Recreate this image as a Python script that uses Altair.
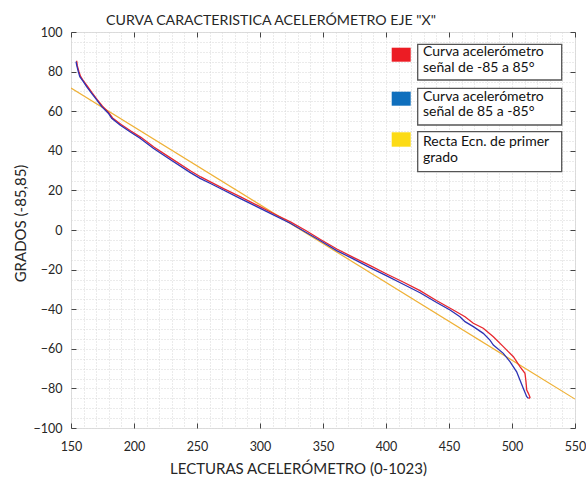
import altair as alt
import pandas as pd

# Accelerometer X-axis readings (0-1023) against angle in degrees
rojo_x = [154.5, 155.0, 156.2, 157.6, 160.2, 163.0, 166.8, 170.8, 175.0, 180.0, 183.0,
          189.5, 197.5, 205.5, 216.0, 228.0, 245.0, 253.0, 261.0, 271.5, 285.0, 298.0,
          311.0, 324.5, 337.0, 348.0, 361.0, 374.0, 387.5, 400.5, 414.0, 427.0, 440.0,
          453.4, 462.7, 469.3, 477.2, 485.2, 493.1, 501.1, 506.3, 510.3, 511.0, 511.7,
          513.0, 514.3, 513.2]
rojo_y = [85.5, 83.0, 80.2, 77.6, 75.0, 72.6, 69.2, 65.8, 62.5, 59.2, 56.6,
          53.4, 50.0, 46.8, 41.8, 36.8, 29.8, 26.8, 24.2, 20.8, 16.6, 12.4,
          8.2, 4.0, -0.5, -4.8, -9.6, -13.8, -18.0, -22.2, -26.4, -30.6, -35.6,
          -40.4, -43.8, -47.1, -49.6, -53.9, -58.9, -64.0, -69.0, -72.4, -76.0, -80.8,
          -82.5, -84.5, -85.2]

azul_x = [154.0, 154.5, 155.8, 157.0, 159.8, 162.4, 166.4, 170.4, 174.4, 179.6, 182.3,
          188.9, 196.8, 204.8, 215.3, 227.2, 244.4, 252.4, 260.3, 270.9, 284.1, 297.4,
          310.6, 324.0, 336.0, 347.6, 360.9, 374.0, 387.3, 400.6, 413.7, 427.0, 440.2,
          450.8, 458.7, 462.7, 469.3, 477.2, 482.5, 485.2, 493.1, 498.4, 503.7, 506.3,
          509.0, 511.7, 513.0]
azul_y = [85.0, 83.3, 80.0, 77.4, 74.9, 72.4, 69.0, 65.7, 62.3, 59.0, 56.4,
          53.0, 49.6, 46.3, 41.3, 36.2, 29.1, 26.1, 23.6, 20.2, 16.0, 11.8,
          7.6, 3.4, -1.0, -5.3, -10.4, -14.6, -19.0, -23.2, -27.4, -31.7, -36.6,
          -40.4, -43.8, -46.3, -48.8, -52.2, -55.6, -58.1, -62.3, -66.5, -71.6, -75.8,
          -80.0, -84.2, -85.0]

# First-degree fit line
recta_x = [150, 550]
recta_y = [71.7, -85.4]

leyenda_textos = [
    ["Curva acelerómetro", "señal de -85 a 85°"],
    ["Curva acelerómetro", "señal de 85 a -85°"],
    ["Recta Ecn. de primer", "grado"],
]
leyenda_colores = ["#ec1c24", "#0f6fbd", "#fcdb16"]

W, H = 504, 396
FONT = "Lato"
TXT = "#262626"

rojo = pd.DataFrame({"x": rojo_x, "y": rojo_y, "i": range(len(rojo_x))})
azul = pd.DataFrame({"x": azul_x, "y": azul_y, "i": range(len(azul_x))})
recta = pd.DataFrame({"x": recta_x, "y": recta_y, "i": range(len(recta_x))})

xs = alt.Scale(domain=[150, 550], nice=False, zero=False)
ys = alt.Scale(domain=[-100, 100], nice=False, zero=False)

x_major = list(range(150, 551, 50))
y_major = list(range(-100, 101, 20))
x_minor = list(range(150, 551, 10))
y_minor = list(range(-100, 101, 5))

grid_style = dict(grid=True, gridColor="#d6d6d6", gridDash=[1, 2], gridWidth=1)

# Labelled axes (bottom / left) that also carry the dotted grid
x_main = alt.Axis(values=x_minor, ticks=False, tickSize=0, domain=False,
                  labelExpr="datum.value % 50 === 0 ? datum.label : ''",
                  labelFlush=False, labelOverlap=False, labelFont=FONT,
                  labelFontSize=12.5, labelColor=TXT, labelBaseline="alphabetic",
                  labelPadding=22, title="LECTURAS ACELERÓMETRO (0-1023)",
                  titleFont=FONT, titleFontSize=15, titleFontWeight="normal",
                  titleColor=TXT, titleX=227, titleY=45, titleBaseline="alphabetic",
                  titleAlign="center", **grid_style)
y_main = alt.Axis(values=y_minor, ticks=False, tickSize=0, domain=False,
                  labelExpr="datum.value % 20 === 0 ? datum.label : ''",
                  labelFlush=False, labelOverlap=False, labelFont=FONT,
                  labelFontSize=12.5, labelColor=TXT, labelPadding=9,
                  title="GRADOS (-85,85)", titleFont=FONT, titleFontSize=15,
                  titleFontWeight="normal", titleColor=TXT, titleX=-51, titleY=191,
                  titleBaseline="middle", titleAlign="center", **grid_style)

tick_style = dict(labels=False, grid=False, domain=False, ticks=True, tickSize=5,
                  tickColor="#444444", tickWidth=1, title=None)

# Inward ticks on all four sides of the box
x_in_bottom = alt.Axis(orient="top", offset=-H, values=x_major, **tick_style)
x_in_top = alt.Axis(orient="bottom", offset=-H, values=x_major, **tick_style)
y_in_left = alt.Axis(orient="right", offset=-W, values=y_major, **tick_style)
y_in_right = alt.Axis(orient="left", offset=-W, values=y_major, **tick_style)

linea_recta = alt.Chart(recta).mark_line(color="#efb136", strokeWidth=1.2, clip=True).encode(
    x=alt.X("x:Q", scale=xs, axis=x_main),
    y=alt.Y("y:Q", scale=ys, axis=y_main),
    order="i:Q",
)
linea_rojo = alt.Chart(rojo).mark_line(color="#e8262d", strokeWidth=1.3, clip=True).encode(
    x=alt.X("x:Q", scale=xs, axis=x_in_bottom),
    y=alt.Y("y:Q", scale=ys, axis=y_in_left),
    order="i:Q",
)
linea_azul = alt.Chart(azul).mark_line(color="#2d32b4", strokeWidth=1.3, clip=True).encode(
    x=alt.X("x:Q", scale=xs, axis=x_in_top),
    y=alt.Y("y:Q", scale=ys, axis=y_in_right),
    order="i:Q",
)

# Hand-built legend: coloured swatch plus boxed two-line label
uno = pd.DataFrame({"k": [0]})
leyenda = []
cajas = [(12.3, 48.0), (56.3, 93.0), (99.7, 139.7)]
muestras = [(15.7, 29.7), (59.7, 73.7), (100.3, 114.7)]
lineas = [(19.7, 36.3), (64.7, 80.3), (110.3, 126.3)]
for textos, color, (b0, b1), (m0, m1), (l0, l1) in zip(leyenda_textos, leyenda_colores,
                                                         cajas, muestras, lineas):
    leyenda.append(alt.Chart(uno).mark_rect(color=color).encode(
        x=alt.value(320.7), x2=alt.value(339.7), y=alt.value(m0), y2=alt.value(m1)))
    leyenda.append(alt.Chart(uno).mark_rect(fill="white", stroke="#555555",
                                            strokeWidth=1.3).encode(
        x=alt.value(346.7), x2=alt.value(490.7), y=alt.value(b0), y2=alt.value(b1)))
    for t, yy in zip(textos, (l0, l1)):
        leyenda.append(alt.Chart(uno).mark_text(
            align="left", baseline="middle", font=FONT, fontSize=14, color="#111111"
        ).encode(x=alt.value(352), y=alt.value(yy), text=alt.value(t)))

chart = alt.layer(linea_recta, linea_rojo, linea_azul, *leyenda).resolve_axis(
    x="independent", y="independent"
).properties(
    width=W,
    height=H,
    title=alt.TitleParams('CURVA CARACTERISTICA ACELERÓMETRO EJE "X"', anchor="start",
                          frame="group", dx=35, dy=6, offset=4, font=FONT, fontSize=14.2,
                          fontWeight="normal", color=TXT),
    autosize=alt.AutoSizeParams(type="none"),
    padding={"left": 71, "top": 32, "right": 11, "bottom": 49},
).configure_view(stroke="#4a4a4a", strokeWidth=1).configure(background="white")

chart.save("out.html", embed_options={"renderer": "svg", "actions": False})
